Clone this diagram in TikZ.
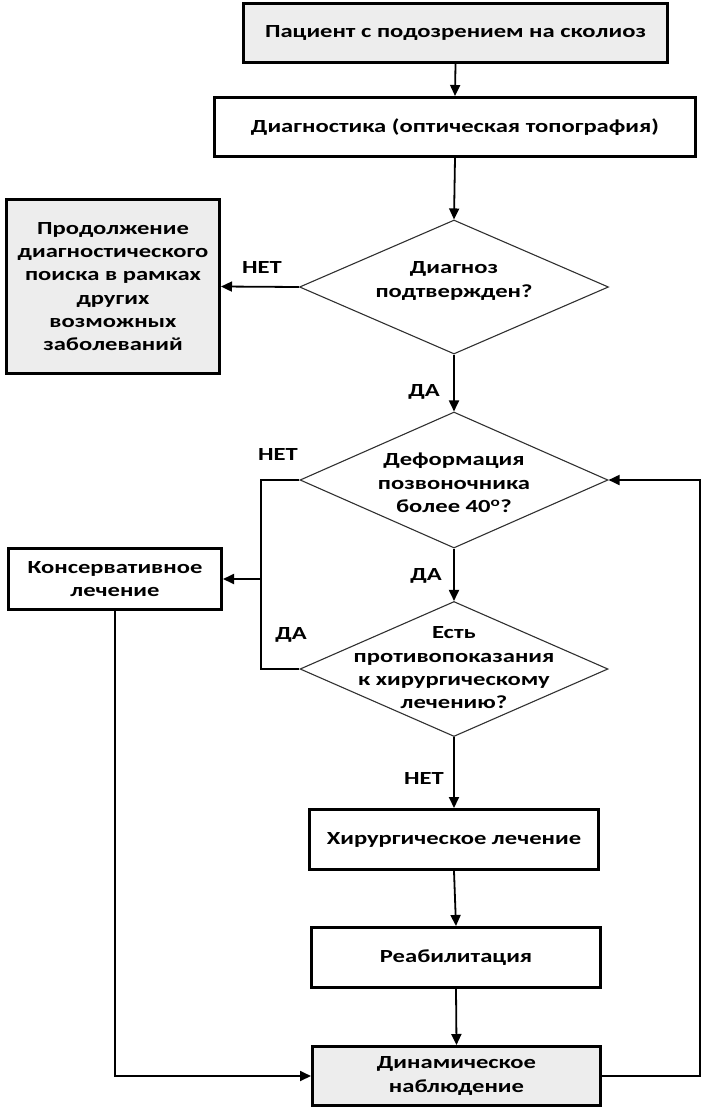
\documentclass[tikz,border=0pt]{standalone}
\usepackage{fontspec}
\setmainfont{Carlito}[FakeStretch=1.33]
\usetikzlibrary{shapes.geometric,arrows.meta}
\definecolor{boxgray}{HTML}{EDEDED}
\definecolor{dialine}{HTML}{303030}
\tikzset{
  txtfont/.style={font=\fontsize{18.5}{23.3}\selectfont\bfseries},
  box/.style={draw=black, line width=3pt, fill=white, inner sep=0pt, align=center, txtfont},
  graybox/.style={box, fill=boxgray},
  dia/.style={draw=dialine, line width=1.1pt, shape=diamond, inner sep=0pt},
  diatext/.style={align=center, inner sep=0pt, txtfont},
  lbl/.style={inner sep=0pt, txtfont},
  arr/.style={draw=black, line width=1.8pt, -{Triangle[length=11pt,width=10pt]}},
  ln/.style={draw=black, line width=1.8pt},
}
\begin{document}
\begin{tikzpicture}[x=1pt,y=-1pt]
\useasboundingbox (0,0) rectangle (703,1114);
% boxes
\node[graybox, minimum width=424pt, minimum height=59pt] (b1) at (455.5,33) {Пациент с подозрением на сколиоз};
\node[box, minimum width=481pt, minimum height=59pt] (b2) at (455,127) {Диагностика (оптическая топография)};
\node[graybox, minimum width=213pt, minimum height=174pt] (g) at (113,286.5) {Продолжение\\диагностического\\поиска в рамках\\других\\возможных\\заболеваний};
\node[box, minimum width=213pt, minimum height=61pt] (kons) at (115,579) {Консервативное\\лечение};
\node[box, minimum width=289pt, minimum height=60pt] (hir) at (454,839.5) {Хирургическое лечение};
\node[box, minimum width=289pt, minimum height=60pt] (reab) at (456,957.5) {Реабилитация};
\node[graybox, minimum width=288pt, minimum height=59pt] (dyn) at (456.5,1076) {Динамическое\\наблюдение};
% diamonds
\node[dia, minimum width=309pt, minimum height=134pt] (d1) at (454,287) {};
\node[diatext] (t1) at (454,281) {Диагноз\\подтвержден?};
\node[dia, minimum width=308pt, minimum height=136pt] (d2) at (454,480) {};
\node[diatext] (t2) at (454,483) {Деформация\\позвоночника\\более 40\textsuperscript{o}?};
\node[dia, minimum width=308pt, minimum height=135pt] (d3) at (454,669) {};
\node[diatext] (t3) at (454,668) {Есть\\противопоказания\\к хирургическому\\лечению?};
% coordinates
\coordinate (jt) at (261,480);
\coordinate (jm) at (261,579);
\coordinate (jb) at (261,669);
\coordinate (rc) at (700,480);
% connectors
\draw[arr] (b1.south) -- (b2.north);
\draw[arr] (b2.south) -- (d1.north);
\draw[arr] (d1.west) -- (g.east);
\draw[arr] (d1.south) -- (d2.north);
\draw[arr] (d2.south) -- (d3.north);
\draw[arr] (d3.south) -- (hir.north);
\draw[arr] (hir.south) -- (reab.north);
\draw[arr] (reab.south) -- (dyn.north);
\draw[ln] (d2.west) -- (jt) -- (jb) -- (d3.west);
\draw[arr] (jm) -- (kons.east);
\draw[arr] (kons.south) |- (dyn.west);
\draw[arr] (dyn.east) -| (rc) -- (d2.east);
% labels
\node[lbl] (l1) at (262,267) {НЕТ};
\node[lbl] (l2) at (424,392) {ДА};
\node[lbl] (l3) at (278,454) {НЕТ};
\node[lbl] (l4) at (426,576) {ДА};
\node[lbl] (l5) at (291,635) {ДА};
\node[lbl] (l6) at (424,778) {НЕТ};
\end{tikzpicture}
\end{document}
